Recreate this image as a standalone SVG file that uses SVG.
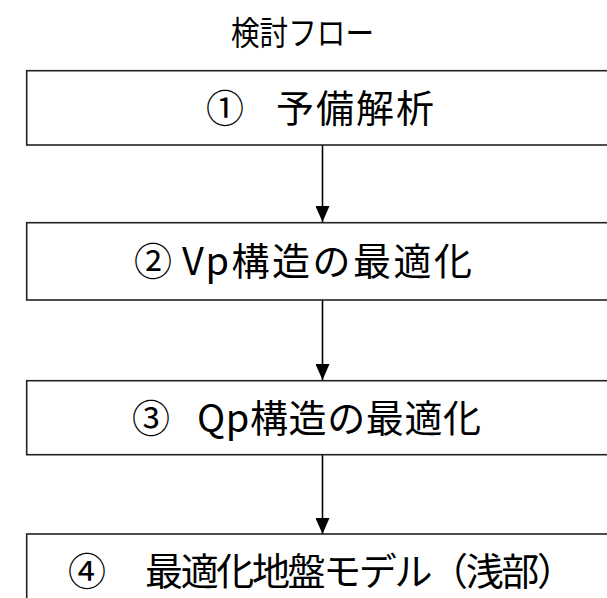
<svg xmlns="http://www.w3.org/2000/svg" width="607" height="598" viewBox="0 0 607 598">
<style>
text{font-family:"Noto Sans CJK JP","Noto Sans CJK SC",sans-serif;fill:#000}
.box{fill:#fff;stroke:#222;stroke-width:1.6}
.lbl{font-size:38px}
.conn{stroke:#000;stroke-width:1.6;fill:none}
</style>
<defs>
<marker id="ah" markerWidth="16" markerHeight="14" refX="16" refY="7" orient="auto" markerUnits="userSpaceOnUse" viewBox="0 0 16 14">
<path d="M0,0 L16,7 L0,14 Z" fill="#000"/>
</marker>
</defs>
<g id="title"><text x="231" y="45" font-size="33" textLength="143" lengthAdjust="spacingAndGlyphs">検討フロー</text></g>
<g id="connectors">
<line class="conn" x1="322.5" y1="145" x2="322.5" y2="222" marker-end="url(#ah)"/>
<line class="conn" x1="322.5" y1="300" x2="322.5" y2="380" marker-end="url(#ah)"/>
<line class="conn" x1="322.5" y1="455" x2="322.5" y2="534" marker-end="url(#ah)"/>
</g>
<g id="n1"><rect class="box" x="26.7" y="70.7" width="600" height="74.3"/><text class="lbl" y="122"><tspan x="206">①</tspan><tspan x="276" textLength="158" lengthAdjust="spacing">予備解析</tspan></text></g>
<g id="n2"><rect class="box" x="26.7" y="222.7" width="600" height="77.3"/><text class="lbl" y="275"><tspan x="134">②</tspan><tspan x="182" textLength="290" lengthAdjust="spacing">Vp構造の最適化</tspan></text></g>
<g id="n3"><rect class="box" x="26.7" y="380.7" width="600" height="74"/><text class="lbl" y="432"><tspan x="132">③</tspan><tspan x="197" textLength="284" lengthAdjust="spacing">Qp構造の最適化</tspan></text></g>
<g id="n4"><rect class="box" x="26.7" y="534" width="600" height="80"/><text class="lbl" y="585"><tspan x="68">④</tspan><tspan x="145" textLength="430" lengthAdjust="spacing">最適化地盤モデル（浅部）</tspan></text></g>
</svg>
